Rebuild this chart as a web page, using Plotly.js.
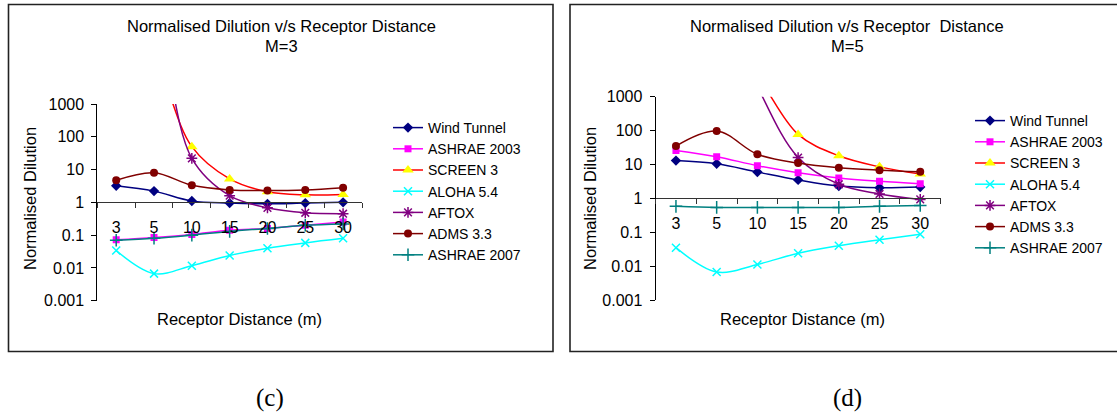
<!DOCTYPE html>
<html><head><meta charset="utf-8">
<script src="https://cdn.plot.ly/plotly-3.0.1.min.js"></script>
<style>html,body{margin:0;padding:0;background:#fff;overflow:hidden}</style>
</head><body><div id="chart" style="width:1117px;height:414px"></div>
<script>
// ---- data ----
const categories = ['3', '5', '10', '15', '20', '25', '30'];
const seriesNames = ['Wind Tunnel', 'ASHRAE 2003', 'SCREEN 3', 'ALOHA 5.4', 'AFTOX', 'ADMS 3.3', 'ASHRAE 2007'];

// panel (c): M=3
const windTunnelM3 = [3.2, 2.2, 1.1, 0.95, 0.9, 0.95, 1.0];
const ashrae2003M3 = [0.072, 0.085, 0.105, 0.14, 0.16, 0.2, 0.25];
const screen3M3    = [1e6, 3e4, 50, 5.2, 2.1, 1.7, 1.75];
const aloha54M3    = [0.034, 0.0067, 0.0117, 0.024, 0.04, 0.058, 0.08];
const aftoxM3      = [1e8, 1e6, 22, 1.6, 0.68, 0.48, 0.45];
const adms33M3     = [4.7, 8.0, 3.3, 2.4, 2.3, 2.4, 2.8];
const ashrae2007M3 = [0.07, 0.08, 0.1, 0.13, 0.16, 0.2, 0.22];

// panel (d): M=5
const windTunnelM5 = [13, 10.5, 6.0, 3.5, 2.3, 2.05, 2.15];
const ashrae2003M5 = [26, 17, 9.2, 5.7, 4.0, 3.2, 2.7];
const screen3M5    = [1e6, 1e5, 4000, 77, 18, 8.5, 5.2];
const aloha54M5    = [0.035, 0.0067, 0.0112, 0.024, 0.04, 0.06, 0.087];
const aftoxM5      = [1e7, 1e6, 2000, 16, 2.6, 1.35, 0.93];
const adms33M5     = [35, 97, 20, 11, 8.0, 6.8, 6.1];
const ashrae2007M5 = [0.58, 0.54, 0.54, 0.54, 0.54, 0.58, 0.62];

const yTickVals = [0.001, 0.01, 0.1, 1, 10, 100, 1000];
const yTickText = ['0.001', '0.01', '0.1', '1', '10', '100', '1000'];

const panelTitle = ['Normalised Dilution v/s Receptor Distance', 'Normalised Dilution v/s Receptor\u00a0 Distance'];
const panelSub = ['M=3', 'M=5'];
const panelCaption = ['(c)', '(d)'];
const yTitle = 'Normalised Dilution';
const xTitle = 'Receptor Distance (m)';

// ---- styles ----
const styles = [
  {line: '#000080', symbol: 'diamond', size: 8, mcolor: '#000080'},
  {line: '#FF00FF', symbol: 'square', size: 7, mcolor: '#FF00FF'},
  {line: '#FF0000', symbol: 'triangle-up', size: 10, mcolor: '#FFFF00'},
  {line: '#00FFFF', symbol: 'x-thin-open', size: 8, mcolor: '#00FFFF', mw: 1.5},
  {line: '#800080', symbol: 'asterisk-open', size: 9, mcolor: '#800080', mw: 1.5},
  {line: '#800000', symbol: 'circle', size: 8, mcolor: '#800000'},
  {line: '#008080', symbol: 'cross-thin-open', size: 9, mcolor: '#008080', mw: 1.5}
];

const panels = [
  [windTunnelM3, ashrae2003M3, screen3M3, aloha54M3, aftoxM3, adms33M3, ashrae2007M3],
  [windTunnelM5, ashrae2003M5, screen3M5, aloha54M5, aftoxM5, adms33M5, ashrae2007M5]
];

const W = 1117, H = 414;
const px = v => v / W;
const py = v => 1 - v / H;
const FONT = 'Arial, "Liberation Sans", sans-serif';

const traces = [];
panels.forEach((series, p) => {
  series.forEach((vals, i) => {
    const s = styles[i];
    traces.push({
      x: categories, y: vals,
      xaxis: p === 0 ? 'x' : 'x2', yaxis: p === 0 ? 'y' : 'y2',
      legend: p === 0 ? 'legend' : 'legend2',
      name: seriesNames[i], type: 'scatter', mode: 'lines+markers',
      line: {color: s.line, width: 1.5, shape: 'spline', smoothing: 1},
      marker: {symbol: s.symbol, size: s.size, color: s.mcolor,
               line: {color: s.mcolor, width: s.mw || 0}},
      cliponaxis: true
    });
  });
});

const geo = [
  {xd: [px(97.3), px(362)], yd: [py(300.7), py(104)], legX: px(388), legY: py(112)},
  {xd: [px(655.6), px(940.6)], yd: [py(300), py(96.7)], legX: px(970), legY: py(105)}
];

function xAxis(g) {
  return {
    type: 'category', range: [-0.5, 6.5], domain: g.xd,
    anchor: 'free', position: (g.yd[0] + g.yd[1]) / 2,
    showline: true, linecolor: '#333', linewidth: 1,
    ticks: 'outside', tickson: 'boundaries', ticklen: 5, tickcolor: '#333',
    showgrid: false, zeroline: false, fixedrange: true,
    tickfont: {family: FONT, size: 16, color: '#000'}, ticklabelstandoff: 10
  };
}
function yAxis(g, anchor) {
  return {
    type: 'log', range: [-3, 3], domain: g.yd, anchor: anchor,
    tickvals: yTickVals, ticktext: yTickText,
    showline: true, linecolor: '#000', linewidth: 1,
    ticks: 'outside', ticklen: 5, tickcolor: '#000',
    showgrid: false, zeroline: false, fixedrange: true,
    tickfont: {family: FONT, size: 16, color: '#000'}, ticklabelstandoff: 4
  };
}
function legendObj(g) {
  return {x: g.legX, y: g.legY, xanchor: 'left', yanchor: 'top',
          bgcolor: 'rgba(0,0,0,0)', borderwidth: 0,
          font: {family: FONT, size: 14, color: '#000'}};
}

const frameX = [[8.5, 553], [570, 1160]];
const titleX = [281, 847];
const yTitleX = [30, 590];
const xTitleX = [239, 802];
const captionX = [270, 847];

const annotations = [];
const shapes = [];
for (let p = 0; p < 2; p++) {
  shapes.push({type: 'rect', xref: 'paper', yref: 'paper',
    x0: px(frameX[p][0]), x1: px(frameX[p][1]), y0: py(351.5), y1: py(4.5),
    line: {color: '#222', width: 1.6}, fillcolor: 'rgba(0,0,0,0)'});
  const base = {xref: 'paper', yref: 'paper', showarrow: false, xanchor: 'center', yanchor: 'middle'};
  annotations.push(Object.assign({}, base, {x: px(titleX[p]), y: py(26), text: panelTitle[p],
    font: {family: FONT, size: 16.5, color: '#000'}}));
  annotations.push(Object.assign({}, base, {x: px(titleX[p]), y: py(46), text: panelSub[p],
    font: {family: FONT, size: 16.5, color: '#000'}}));
  annotations.push(Object.assign({}, base, {x: px(yTitleX[p]), y: py(199), text: yTitle, textangle: -90,
    font: {family: FONT, size: 16.5, color: '#000'}}));
  annotations.push(Object.assign({}, base, {x: px(xTitleX[p]), y: py(319), text: xTitle,
    font: {family: FONT, size: 16.5, color: '#000'}}));
  annotations.push(Object.assign({}, base, {x: px(captionX[p]), y: py(398), text: panelCaption[p],
    font: {family: '"Liberation Serif", "Times New Roman", serif', size: 25, color: '#000'}}));
}

const layout = {
  width: W, height: H,
  margin: {l: 0, r: 0, t: 0, b: 0, pad: 0, autoexpand: false},
  paper_bgcolor: '#fff', plot_bgcolor: '#fff',
  showlegend: true,
  xaxis: xAxis(geo[0]), yaxis: yAxis(geo[0], 'x'),
  xaxis2: xAxis(geo[1]), yaxis2: yAxis(geo[1], 'x2'),
  legend: legendObj(geo[0]), legend2: legendObj(geo[1]),
  annotations: annotations, shapes: shapes,
  font: {family: FONT, color: '#000'}
};

Plotly.newPlot('chart', traces, layout, {staticPlot: true, displayModeBar: false});
</script></body></html>
